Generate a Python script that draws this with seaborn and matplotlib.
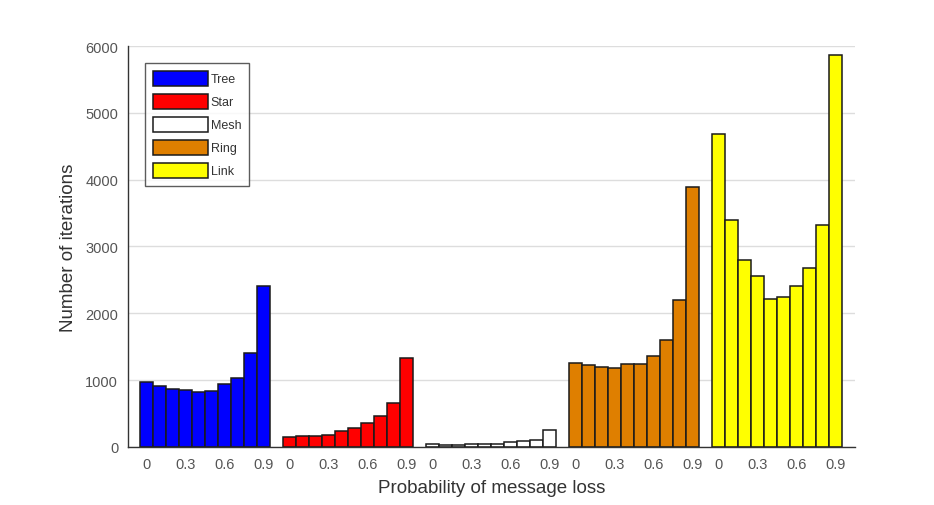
import numpy as np
import pandas as pd
import matplotlib
matplotlib.use("Agg")
import matplotlib.pyplot as plt
import seaborn as sns

# probabilities of message loss, one bar each per topology
probs = [0.0, 0.1, 0.2, 0.3, 0.4, 0.5, 0.6, 0.7, 0.8, 0.9]
topologies = ["Tree", "Star", "Mesh", "Ring", "Link"]

tree = [964, 913, 863, 848, 823, 838, 938, 1023, 1402, 2405]
star = [140, 155, 164, 184, 239, 289, 349, 463, 663, 1336]
mesh = [40, 30, 30, 35, 35, 45, 65, 85, 105, 250]
ring = [1255, 1225, 1200, 1175, 1235, 1245, 1365, 1595, 2195, 3895]
link = [4690, 3400, 2800, 2560, 2210, 2245, 2405, 2675, 3325, 5870]

colors = ["#0000ff", "#ff0000", "#ffffff", "#df7f00", "#ffff00"]
tick_labels = ["0", "0.3", "0.6", "0.9"]

series = [tree, star, mesh, ring, link]
rows = []
for g, (name, vals) in enumerate(zip(topologies, series)):
    for i, v in enumerate(vals):
        rows.append({"pos": g * 11 + i, "value": v, "topology": name})
df = pd.DataFrame(rows)

sns.set_style("white")
plt.rcParams["font.family"] = ["Liberation Sans", "DejaVu Sans"]

fig = plt.figure(figsize=(9.34, 5.06), dpi=100)
ax = fig.add_axes([0.137, 0.115, 0.778, 0.792])

sns.barplot(data=df, x="pos", y="value", hue="topology", hue_order=topologies,
            palette=colors, saturation=1, native_scale=True, dodge=False, width=1.0,
            edgecolor="#1a1a1a", linewidth=1.1, errorbar=None, ax=ax)

ax.set_xlim(-1.4, 54.5)
ax.set_ylim(0, 6000)
ax.set_yticks(range(0, 6001, 1000))
ax.yaxis.grid(True, color="#dddddd", linewidth=1)
ax.set_axisbelow(True)

xt, xl = [], []
for g in range(len(topologies)):
    for k, lab in zip([0, 3, 6, 9], tick_labels):
        xt.append(g * 11 + k)
        xl.append(lab)
ax.set_xticks(xt)
ax.set_xticklabels(xl)
ax.tick_params(axis="both", direction="in", length=4, labelsize=10.5,
               labelcolor="#555555", color="#333333", pad=7)

for s in ["top", "right"]:
    ax.spines[s].set_visible(False)
for s in ["left", "bottom"]:
    ax.spines[s].set_color("#333333")
    ax.spines[s].set_linewidth(1.0)

ax.set_xlabel("Probability of message loss", fontsize=13.5, color="#333333", labelpad=6)
ax.set_ylabel("Number of iterations", fontsize=13.5, color="#333333", labelpad=6)

handles, labels = ax.get_legend_handles_labels()
leg = ax.legend(handles, labels, loc="upper left", bbox_to_anchor=(0.02, 0.965),
                fontsize=9, frameon=True, fancybox=False, edgecolor="#333333",
                handlelength=4.4, handleheight=1.5, labelspacing=0.62,
                handletextpad=0.2, borderpad=0.65, borderaxespad=0.2)
leg.get_frame().set_linewidth(1.0)
for t in leg.get_texts():
    t.set_color("#333333")

fig.savefig("out.png", dpi=100)
